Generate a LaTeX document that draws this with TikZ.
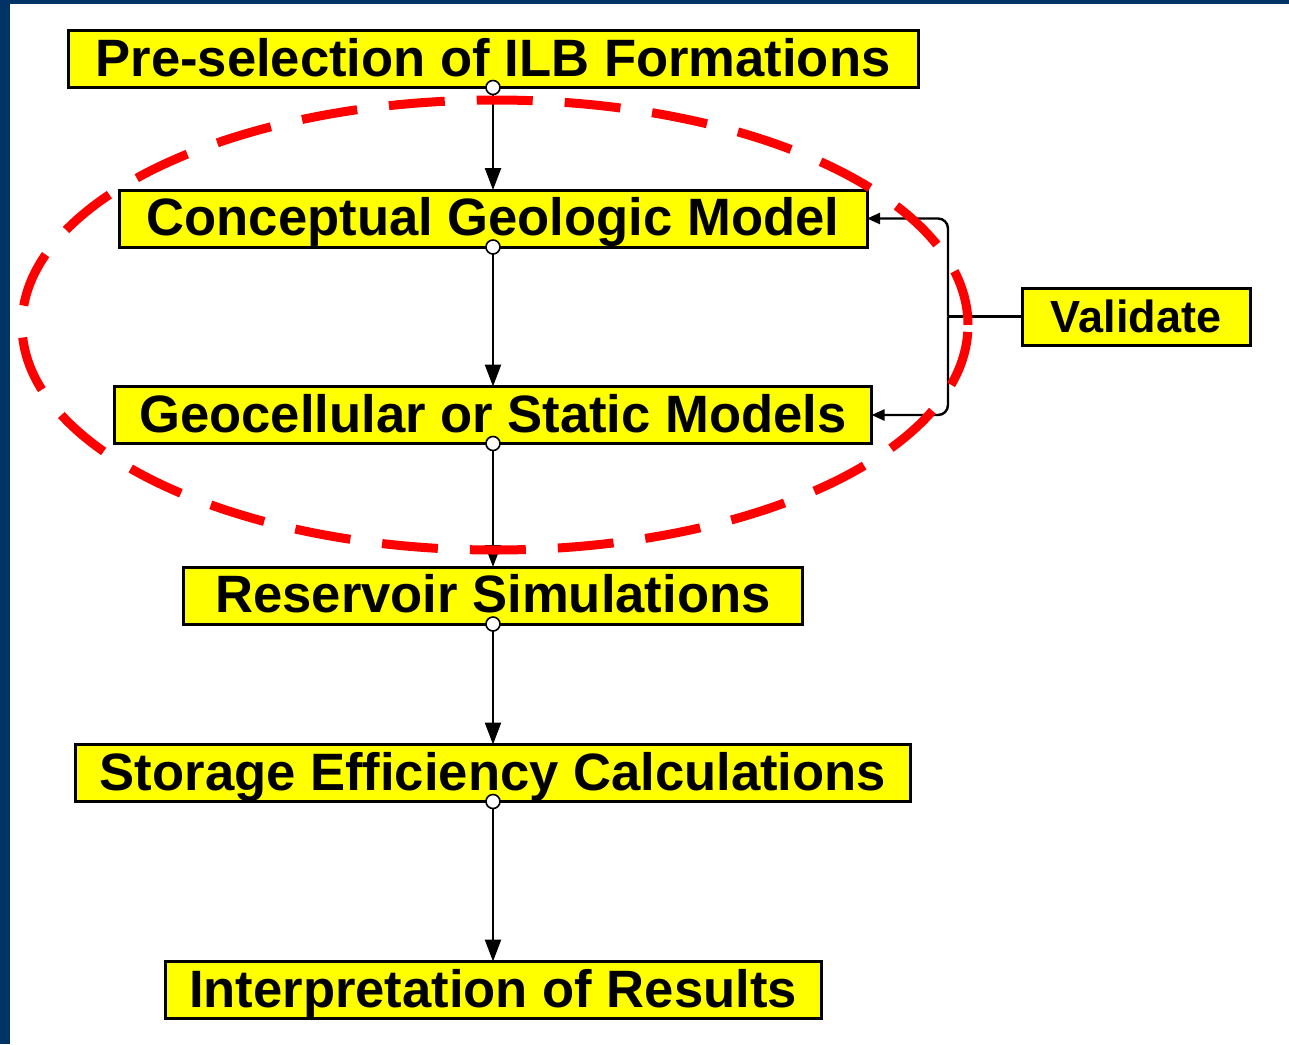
\documentclass[tikz,border=0pt]{standalone}
\usepackage{fontspec}
\setmainfont{Liberation Sans}
\usetikzlibrary{arrows.meta}
\definecolor{slideblue}{RGB}{0,51,102}
\definecolor{boxyellow}{RGB}{255,255,0}
\begin{document}
\begin{tikzpicture}[
    x=1pt, y=1pt,
    every node/.style={font=\bfseries\fontsize{26.3}{30}\selectfont},
    stage/.style={
      draw=black, fill=boxyellow, line width=1.5pt,
      inner sep=0pt, outer sep=0pt,
      minimum height=28.5pt, text height=19pt, text depth=2pt,
    },
    flow/.style={line width=1.2pt, -{Triangle[length=11pt,width=8pt]}},
    dot/.style={draw=black, fill=white, line width=0.8pt},
    loopback/.style={line width=1.2pt, rounded corners=5pt, -{Triangle[length=6.5pt,width=5.5pt]}},
    focus/.style={draw=red, line width=4.5pt, dash pattern=on 28pt off 16pt},
  ]
% --- page and frame
\useasboundingbox (0,0) rectangle (644.5,-522);
\fill[slideblue] (0,0) rectangle (644.5,-522);
\fill[white] (5,-2) rectangle (644.5,-522);

% --- column x-position
\def\cA{246.5}
% --- row y-positions
\def\rA{-29.5}
\def\rB{-109.25}
\def\rC{-207.5}
\def\rD{-297.75}
\def\rE{-386.5}
\def\rF{-495}

% Stages of the workflow
\node[stage, minimum width=425pt] (pre) at (\cA, \rA) {Pre-selection of ILB Formations};
\node[stage, minimum width=374pt] (cgm) at (\cA, \rB) {Conceptual Geologic Model};
\node[stage, minimum width=378.5pt] (geo) at (\cA, \rC) {Geocellular or Static Models};
\node[stage, minimum width=309.5pt] (res) at (\cA, \rD) {Reservoir Simulations};
\node[stage, minimum width=417.5pt] (sto) at (\cA, \rE) {Storage Efficiency Calculations};
\node[stage, minimum width=328pt] (int) at (\cA, \rF) {Interpretation of Results};

% Validate box, off to the right
\node[stage, minimum width=114pt, text height=16pt, text depth=0pt,
      font=\bfseries\fontsize{22.5}{26}\selectfont] (val) at (568, -158.25) {Validate};

% --- downward flow
\draw[flow] (pre.south) -- (cgm.north);
\draw[flow] (cgm.south) -- (geo.north);
\draw[flow] (geo.south) -- (res.north);
\draw[flow] (res.south) -- (sto.north);
\draw[flow] (sto.south) -- (int.north);
\draw[dot] (pre.south) circle (3.5pt);
\draw[dot] (cgm.south) circle (3.5pt);
\draw[dot] (geo.south) circle (3.5pt);
\draw[dot] (res.south) circle (3.5pt);
\draw[dot] (sto.south) circle (3.5pt);

% --- validation feedback
\coordinate (vj) at ([xshift=-37pt]val.west);
\draw[line width=1.2pt] (val.west) -- (vj);
\draw[loopback] (vj) |- (cgm.east);
\draw[loopback] (vj) |- (geo.east);

% --- red dashed outline round the two model stages
\draw[focus] (247.5,-162.5) ellipse [x radius=236.5, y radius=112.5];
\end{tikzpicture}
\end{document}
